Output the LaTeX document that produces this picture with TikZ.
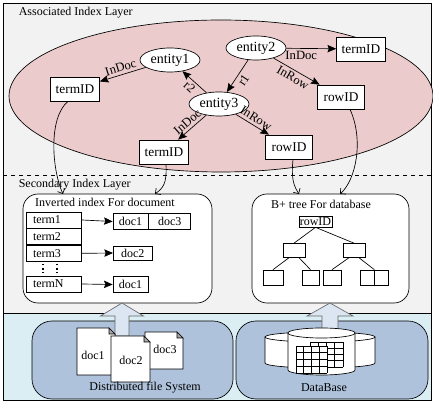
\documentclass[tikz,border=0pt]{standalone}
\usepackage{fontspec}
\setmainfont{Liberation Serif}
\usepackage{tikz}
\usetikzlibrary{positioning,shapes.geometric,arrows.meta}
\definecolor{topgray}{HTML}{F2F2F2}
\definecolor{bottomblue}{HTML}{DAEEF3}
\definecolor{assocpink}{HTML}{EBCBCB}
\definecolor{storeblue}{HTML}{AFC2DB}
\definecolor{uparrow}{HTML}{DCE6F2}
\def\PX{0.75pt}
\def\LayerFont{\fontsize{9}{10}\selectfont}
\def\BoxFont{\fontsize{10}{11}\selectfont}

\begin{document}
\begin{tikzpicture}[x=\PX,y=-\PX,line width=0.5pt,
	entity/.style={ellipse,draw,fill=white,inner sep=0pt,minimum width=60*\PX,minimum height=24*\PX,font=\fontsize{10.5}{12}\selectfont},
	idbox/.style={rectangle,draw,fill=white,inner sep=0pt,minimum width=49*\PX,minimum height=24*\PX,font=\BoxFont},
	lbl/.style={inner sep=2pt,font=\fontsize{9.5}{10}\selectfont},
	rel/.style={-{Stealth[length=6.5pt,width=5.5pt,inset=1pt]}},
	link/.style={-{Straight Barb[length=3pt,width=6pt]}},
	container/.style={draw,fill=white,rounded corners=15*\PX},
	store/.style={draw,fill=storeblue,rounded corners=20*\PX},
	termbox/.style={draw,fill=white,inner xsep=5pt,inner ysep=0pt,text width=31.5pt,align=left,minimum height=16*\PX,font=\LayerFont},
	docbox/.style={draw,fill=white,inner sep=0pt,minimum height=16*\PX,font=\LayerFont},
	treebox/.style={draw,fill=white,inner sep=0pt,font=\LayerFont},
	bigarrow/.style={draw=gray!80!black,fill=uparrow},
	docfill/.style={draw,fill=white},
	pics/docpage/.style 2 args={code={
		\draw[docfill] (0,0) -- ({#1-6},0) -- (#1,6) -- (#1,#2) -- (0,#2) -- cycle;
		\draw[fill=gray!70] ({#1-6},0) -- ({#1-6},6) -- (#1,6) -- cycle;
	}}]
	\useasboundingbox (0,0) rectangle (433,402);
	% layers
	\fill[topgray] (3,3) rectangle (431,313);
	\fill[bottomblue] (3,313) rectangle (431,400);
	\draw (3,313) -- (431,313);
	\draw (3,3) rectangle (431,400);
	\draw[dashed] (3,175) -- (431,175);
	\node[anchor=west,font=\LayerFont] (assocLabel) at (14,13) {Associated Index Layer};
	\node[anchor=west,font=\LayerFont] (secLabel) at (14,185) {Secondary Index Layer};
	%
	\draw[fill=assocpink] (221,96) ellipse [x radius=212, y radius=76];
	%
	\node[entity] (entity1) at (170,60) {entity1};
	\node[entity] (entity2) at (256,48) {entity2};
	\node[entity] (entity3) at (219,104) {entity3};
	\node[idbox] (termIDa) at (75,89) {termID};
	\node[idbox] (termIDb) at (361,49) {termID};
	\node[idbox,minimum width=47*\PX] (rowIDa) at (341,97) {rowID};
	\node[idbox] (termIDc) at (164,152) {termID};
	\node[idbox,minimum width=47*\PX] (rowIDc) at (289,147) {rowID};
	%
	\draw[rel] (entity1) -- node[lbl,sloped,above] {InDoc} (termIDa);
	\draw[rel] (entity3) -- node[lbl,sloped,below] {r2} (entity1);
	\draw[rel] (entity2) -- node[lbl,sloped,below] {r1} (entity3);
	\draw[rel] (entity2) -- node[lbl,below,pos=0.3] {InDoc} (termIDb);
	\draw[rel] (entity2) -- node[lbl,sloped,below] {InRow} (rowIDa);
	\draw[rel] (entity3) -- node[lbl,sloped,above] {InDoc} (termIDc);
	\draw[rel] (entity3) -- node[lbl,sloped,above] {InRow} (rowIDc);
	%
	\node[container,minimum width=189*\PX,minimum height=109*\PX] (invIdx) at (117.5,248.5) {};
	\node[container,minimum width=157*\PX,minimum height=109*\PX] (bTree) at (330.5,248.5) {};
	\node[font=\LayerFont] (invTitle) at (105,202) {Inverted index For document};
	\node[font=\LayerFont] (bTitle) at (321,204) {B+ tree For database};
	%
	\coordinate (invIn1) at (63,194);
	\coordinate (invIn2) at (155,194);
	\coordinate (bIn1) at (299,194);
	\coordinate (bIn2) at (340,194);
	\draw[link] ([xshift=-7*\PX]termIDa.south) .. controls (48,118) and (52,170) .. (invIn1);
	\draw[link] ([xshift=2*\PX]termIDc.south) .. controls (167,184) and (163,188) .. (invIn2);
	\draw[link] ([xshift=4*\PX]rowIDc.south) .. controls (291,180) and (294,186) .. (bIn1);
	\draw[link] ([xshift=9*\PX]rowIDa.south) .. controls (364,140) and (356,180) .. (bIn2);
	%
	\node[termbox] (term1) at (54,220) {term1};
	\node[termbox,below=0pt of term1] (term2) {term2};
	\node[termbox,below=0pt of term2] (term3) {term3};
	\node[termbox] (termN) at (54,284) {termN};
	\draw[dotted,line width=1.1pt] (43,264) -- (43,273) (57,264) -- (57,273);
	\node[docbox,minimum width=35*\PX] (docA) at (130.5,221.5) {doc1};
	\node[docbox,minimum width=42*\PX,right=0pt of docA] (docB) {doc3};
	\node[docbox,minimum width=39*\PX,minimum height=14*\PX,anchor=west] (docC) at (113,253) {doc2};
	\node[docbox,minimum width=35*\PX] (docD) at (130.5,284.5) {doc1};
	\draw[rel] (term1.east) -- (docA.west);
	\draw[rel] (term3.east) -- (docC.west);
	\draw[rel] (termN.east) -- (docD.west);
	%
	\node[treebox,minimum width=33*\PX,minimum height=11*\PX] (root) at (315.5,221.5) {rowID};
	\node[treebox,minimum width=22*\PX,minimum height=14*\PX] (midL) at (294,250.5) {};
	\node[treebox,minimum width=22*\PX,minimum height=14*\PX] (midR) at (354,250.5) {};
	\node[treebox,minimum width=20*\PX,minimum height=15*\PX] (leafA) at (273,277.5) {};
	\node[treebox,minimum width=17*\PX,minimum height=15*\PX] (leafB) at (310.5,277.5) {};
	\node[treebox,minimum width=18*\PX,minimum height=15*\PX] (leafC) at (332,277.5) {};
	\node[treebox,minimum width=14*\PX,minimum height=15*\PX] (leafD) at (367,277.5) {};
	\node[treebox,minimum width=14*\PX,minimum height=15*\PX,right=0pt of leafD] (leafE) {};
	\draw (root.south) -- (midL.north) (root.south) -- (midR.north);
	\draw (midL.-125) -- (leafA.north) (midL.-55) -- (leafB.north);
	\draw (midR.-125) -- (leafC.north) (midR.-55) -- (leafD.north east);
	%
	\node[store,minimum width=201*\PX,minimum height=78*\PX] (dfs) at (132.5,360) {};
	\node[store,minimum width=192*\PX,minimum height=78*\PX] (dbStore) at (332,360) {};
	\draw[bigarrow] (122,303) -- (143.5,316) -- (129,316) -- (129,336) -- (115,336) -- (115,316) -- (100.5,316) -- cycle;
	\draw[bigarrow] (330,303) -- (353,316) -- (338,316) -- (338,336) -- (322,336) -- (322,316) -- (307,316) -- cycle;
	% file pages
	\pic at (77,328) {docpage={38}{47}};
	\pic at (145,332) {docpage={38}{37}};
	\pic at (111,336) {docpage={39}{46}};
	\node[font=\LayerFont] (page1) at (93,355) {doc1};
	\node[font=\LayerFont] (page3) at (165,349) {doc3};
	\node[font=\LayerFont] (page2) at (131,360) {doc2};
	\node[font=\LayerFont] (dfsLabel) at (145,388) {Distributed file System};
	% database cylinders
	\draw[fill=white] (265,337) -- (265,363) arc[start angle=180,end angle=0,x radius=55,y radius=5] -- (375,337) -- cycle;
	\draw[fill=white] (320,337) ellipse [x radius=55, y radius=5];
	\draw[fill=white] (288,333) -- (288,370) arc[start angle=180,end angle=0,x radius=33.5,y radius=5] -- (355,333) -- cycle;
	\draw[fill=white] (321.5,333) ellipse [x radius=33.5, y radius=5];
	\fill[white] (310,342) rectangle (343,367);
	\foreach \i in {0,...,4} {
		\draw ({310+8.25*\i},342) -- ({310+8.25*\i},367);
		\draw (310,{342+6.25*\i}) -- (343,{342+6.25*\i});
	}
	\fill[white] (296,346) rectangle (327,373);
	\foreach \i in {0,...,4} {
		\draw ({296+7.75*\i},346) -- ({296+7.75*\i},373);
		\draw (296,{346+6.75*\i}) -- (327,{346+6.75*\i});
	}
	\node[font=\LayerFont] (dbLabel) at (324,388) {DataBase};
\end{tikzpicture}
\end{document}
